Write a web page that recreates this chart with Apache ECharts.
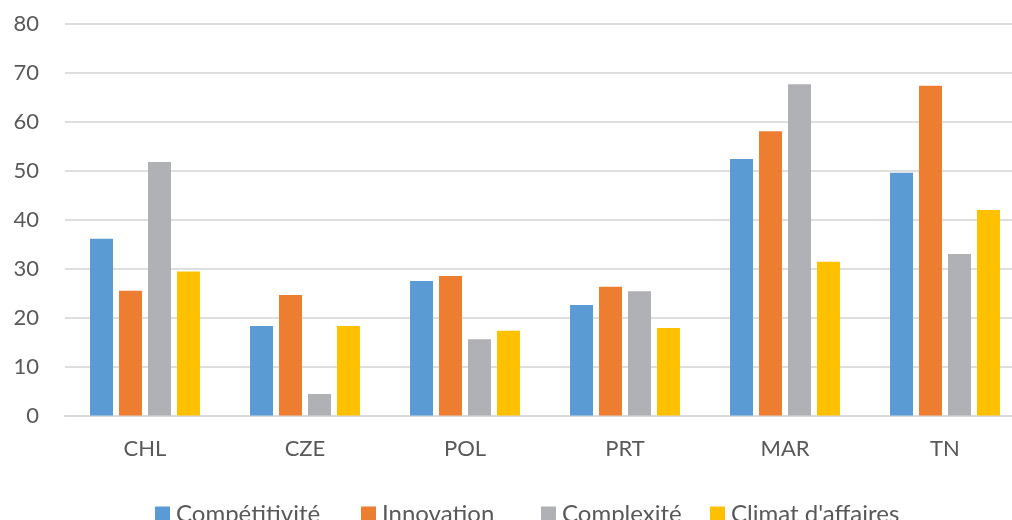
<!DOCTYPE html>
<html>
<head>
<meta charset="utf-8">
<script src="https://cdn.jsdelivr.net/npm/echarts@6/dist/echarts.min.js"></script>
<style>
  html, body { margin: 0; padding: 0; background: #fff; }
  #chart { width: 1012px; height: 520px; }
</style>
</head>
<body>
<div id="chart"></div>
<script>
'use strict';

var countries = ['CHL', 'CZE', 'POL', 'PRT', 'MAR', 'TN'];
var seriesNames = ['Compétitivité', 'Innovation', 'Complexité', "Climat d'affaires"];
var competitivite = [36.1, 18.3, 27.5, 22.6, 52.4, 49.6];
var innovation = [25.5, 24.6, 28.5, 26.3, 58.1, 67.4];
var complexite = [51.8, 4.4, 15.6, 25.4, 67.7, 33.0];
var climat = [29.4, 18.3, 17.3, 17.9, 31.4, 42.0];
var yTicks = [0, 80, 10]; // min, max, interval

var font = 'Lato, "Open Sans", sans-serif';
var labelColor = '#595959';
var colors = ['#5b9bd5', '#ed7d31', '#b0b1b4', '#ffc000'];
var legendLeft = [150, 356, 536, 705];

function bar(name, data, color) {
    return {
        name: name,
        type: 'bar',
        data: data,
        barWidth: 23,
        barGap: '26%',
        itemStyle: { color: color }
    };
}

var legends = seriesNames.map(function(name, i) {
    return {
        data: [name],
        top: 497,
        left: legendLeft[i],
        itemWidth: 15,
        itemHeight: 15,
        icon: 'rect',
        textStyle: { fontFamily: font, fontSize: 24, color: labelColor, padding: [0, 0, 0, 1] }
    };
});

var option = {
    animation: false,
    color: colors,
    textStyle: { fontFamily: font },
    grid: {
        left: 65,
        top: 24,
        width: 960,
        height: 391.5,
        containLabel: false,
        outerBoundsMode: 'none'
    },
    legend: legends,
    xAxis: {
        type: 'category',
        data: countries,
        axisTick: { show: false },
        axisLine: { lineStyle: { color: '#d9d9d9', width: 2 } },
        axisLabel: { fontFamily: font, fontSize: 22, color: labelColor, margin: 22 }
    },
    yAxis: {
        type: 'value',
        min: yTicks[0],
        max: yTicks[1],
        interval: yTicks[2],
        axisLine: { show: false },
        axisTick: { show: false },
        splitLine: { lineStyle: { color: '#dedede', width: 2 } },
        axisLabel: { fontFamily: font, fontSize: 22, color: labelColor, margin: 26 }
    },
    series: [
        bar(seriesNames[0], competitivite, colors[0]),
        bar(seriesNames[1], innovation, colors[1]),
        bar(seriesNames[2], complexite, colors[2]),
        bar(seriesNames[3], climat, colors[3])
    ]
};

var myChart = echarts.init(document.getElementById('chart'));
myChart.setOption(option);
</script>
</body>
</html>
